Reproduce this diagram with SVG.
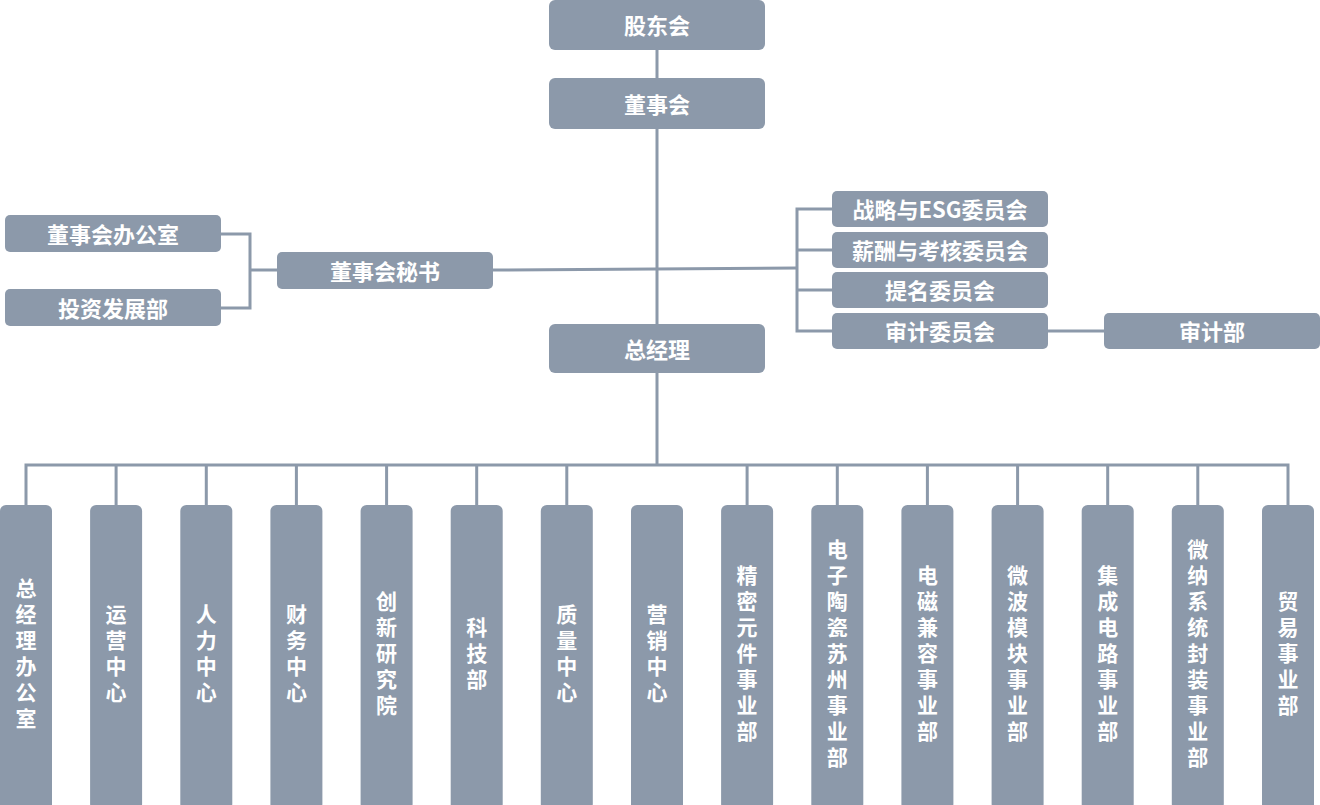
<svg xmlns="http://www.w3.org/2000/svg" width="1320" height="805" viewBox="0 0 1320 805">
<style>
.box{fill:#8c99aa;}
.t{fill:#ffffff;font-family:"Noto Sans CJK SC","Noto Sans",sans-serif;font-weight:bold;font-size:22px;text-anchor:middle;dominant-baseline:central;}
.v{fill:#ffffff;font-family:"Noto Sans CJK SC","Noto Sans",sans-serif;font-weight:bold;font-size:21px;text-anchor:middle;writing-mode:vertical-rl;text-orientation:upright;letter-spacing:5px;}
.c{fill:none;stroke:#8c99aa;stroke-width:3;}
</style>
<rect width="1320" height="805" fill="#ffffff"/>
<g id="connectors">
<path class="c" d="M657 50V78M657 129V324M657 373V465"/>
<path class="c" d="M221 234H250V308H221M250 270H277"/>
<path class="c" d="M493 270L797 268"/>
<path class="c" d="M832 209H797V331H832M797 250H832M797 290H832"/>
<path class="c" d="M1047 331H1104"/>
<path class="c" d="M26 505V465H1288V505"/>
<path class="c" d="M116.1 465V505M206.3 465V505M296.4 465V505M386.6 465V505M476.7 465V505M566.8 465V505M747.1 465V505M837.3 465V505M927.4 465V505M1017.6 465V505M1107.7 465V505M1197.8 465V505"/>
</g>
<g id="n-gudonghui"><rect class="box" x="549" y="0" width="216" height="50" rx="6"/><text class="t" x="657" y="24">股东会</text></g>
<g id="n-dongshihui"><rect class="box" x="549" y="78" width="216" height="51" rx="6"/><text class="t" x="657" y="102.5">董事会</text></g>
<g id="n-zongjingli"><rect class="box" x="549" y="324" width="216" height="49" rx="6"/><text class="t" x="657" y="347.5">总经理</text></g>
<g id="n-dsbgs"><rect class="box" x="5" y="215" width="216" height="37" rx="5"/><text class="t" x="113" y="232.5">董事会办公室</text></g>
<g id="n-tzfzb"><rect class="box" x="5" y="289" width="216" height="37" rx="5"/><text class="t" x="113" y="306.5">投资发展部</text></g>
<g id="n-dsmis"><rect class="box" x="277" y="252" width="216" height="37" rx="5"/><text class="t" x="385" y="269.5">董事会秘书</text></g>
<g id="n-zl"><rect class="box" x="832" y="191" width="216" height="36" rx="5"/><text class="t" x="940" y="208">战略与ESG委员会</text></g>
<g id="n-xc"><rect class="box" x="832" y="232" width="216" height="36" rx="5"/><text class="t" x="940" y="249">薪酬与考核委员会</text></g>
<g id="n-tm"><rect class="box" x="832" y="272" width="216" height="36" rx="5"/><text class="t" x="940" y="289">提名委员会</text></g>
<g id="n-sjwy"><rect class="box" x="832" y="313" width="216" height="36" rx="5"/><text class="t" x="940" y="330">审计委员会</text></g>
<g id="n-sjb"><rect class="box" x="1104" y="313" width="216" height="36" rx="5"/><text class="t" x="1212" y="330">审计部</text></g>
<g id="n-b0"><rect class="box" x="0" y="505" width="52" height="305" rx="6"/><text class="v" x="26" y="656">总经理办公室</text></g>
<g id="n-b1"><rect class="box" x="90.1" y="505" width="52" height="305" rx="6"/><text class="v" x="116.1" y="656">运营中心</text></g>
<g id="n-b2"><rect class="box" x="180.3" y="505" width="52" height="305" rx="6"/><text class="v" x="206.3" y="656">人力中心</text></g>
<g id="n-b3"><rect class="box" x="270.4" y="505" width="52" height="305" rx="6"/><text class="v" x="296.4" y="656">财务中心</text></g>
<g id="n-b4"><rect class="box" x="360.6" y="505" width="52" height="305" rx="6"/><text class="v" x="386.6" y="656">创新研究院</text></g>
<g id="n-b5"><rect class="box" x="450.7" y="505" width="52" height="305" rx="6"/><text class="v" x="476.7" y="656">科技部</text></g>
<g id="n-b6"><rect class="box" x="540.8" y="505" width="52" height="305" rx="6"/><text class="v" x="566.8" y="656">质量中心</text></g>
<g id="n-b7"><rect class="box" x="631" y="505" width="52" height="305" rx="6"/><text class="v" x="657" y="656">营销中心</text></g>
<g id="n-b8"><rect class="box" x="721.1" y="505" width="52" height="305" rx="6"/><text class="v" x="747.1" y="656">精密元件事业部</text></g>
<g id="n-b9"><rect class="box" x="811.3" y="505" width="52" height="305" rx="6"/><text class="v" x="837.3" y="656">电子陶瓷苏州事业部</text></g>
<g id="n-b10"><rect class="box" x="901.4" y="505" width="52" height="305" rx="6"/><text class="v" x="927.4" y="656">电磁兼容事业部</text></g>
<g id="n-b11"><rect class="box" x="991.6" y="505" width="52" height="305" rx="6"/><text class="v" x="1017.6" y="656">微波模块事业部</text></g>
<g id="n-b12"><rect class="box" x="1081.7" y="505" width="52" height="305" rx="6"/><text class="v" x="1107.7" y="656">集成电路事业部</text></g>
<g id="n-b13"><rect class="box" x="1171.8" y="505" width="52" height="305" rx="6"/><text class="v" x="1197.8" y="656">微纳系统封装事业部</text></g>
<g id="n-b14"><rect class="box" x="1262" y="505" width="52" height="305" rx="6"/><text class="v" x="1288" y="656">贸易事业部</text></g>
</svg>
